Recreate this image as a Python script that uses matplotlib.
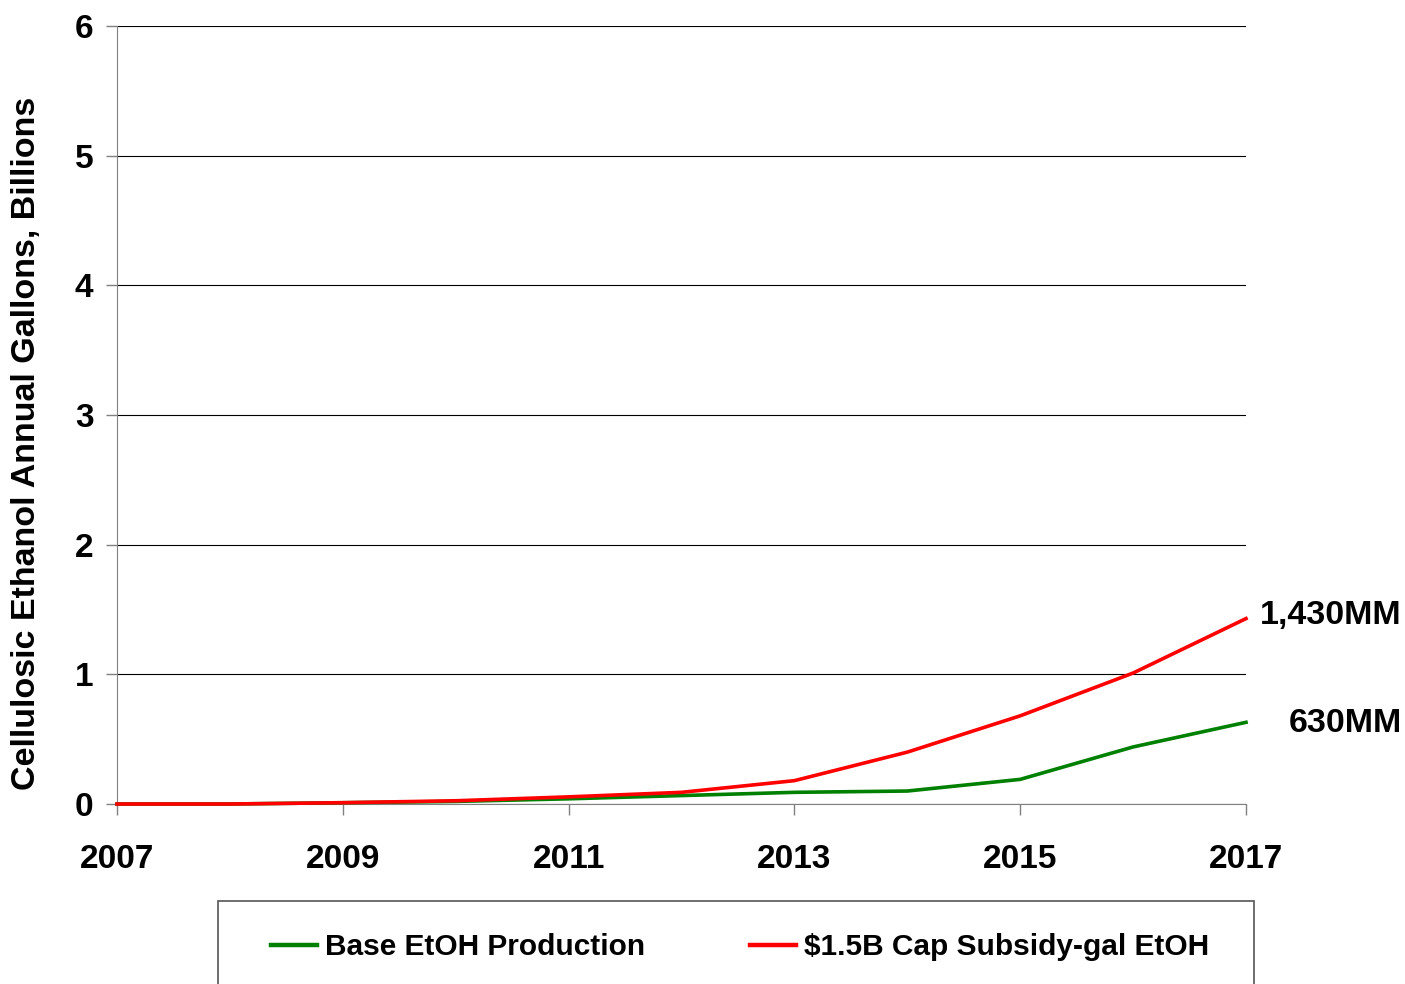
import matplotlib
matplotlib.use('Agg')
import matplotlib.pyplot as plt
from matplotlib.patches import Rectangle

# ---- data (billions of gallons) ----
years = [2007, 2008, 2009, 2010, 2011, 2012, 2013, 2014, 2015, 2016, 2017]
base = [0.0, 0.0, 0.01, 0.02, 0.04, 0.065, 0.09, 0.10, 0.19, 0.44, 0.63]
subsidy = [0.0, 0.0, 0.01, 0.025, 0.055, 0.09, 0.18, 0.40, 0.68, 1.01, 1.43]
end_labels = ['630MM', '1,430MM']
x_ticks = [2007, 2009, 2011, 2013, 2015, 2017]
y_ticks = [0, 1, 2, 3, 4, 5, 6]

plt.rcParams['font.family'] = ['Liberation Sans', 'DejaVu Sans']
plt.rcParams['font.weight'] = 'bold'

W, H = 1405, 984
fig = plt.figure(figsize=(W / 100, H / 100), dpi=100, facecolor='white')
ax = fig.add_axes([117 / W, 1 - 804 / H, (1246 - 117) / W, (804 - 26) / H])

ax.plot(years, base, color='#008000', lw=2.6, label='Base EtOH Production', clip_on=False, zorder=3)
ax.plot(years, subsidy, color='#FF0000', lw=2.6, label='$1.5B Cap Subsidy-gal EtOH', clip_on=False, zorder=4)

ax.set_xlim(2007, 2017)
ax.set_ylim(0, 6)
ax.set_xticks(x_ticks)
ax.set_yticks(y_ticks)
ax.grid(axis='y', color='black', lw=0.8)
ax.set_axisbelow(True)
for s in ['top', 'right']:
    ax.spines[s].set_visible(False)
ax.spines['left'].set_color('#808080')
ax.spines['bottom'].set_color('#808080')
ax.tick_params(axis='both', labelsize=24, length=8, color='#808080', width=1)
ax.tick_params(axis='x', pad=20.5)
ax.tick_params(axis='y', pad=9)
for t in ax.get_xticklabels() + ax.get_yticklabels():
    t.set_fontweight('bold')

fig.text(27 / W, 1 - 443 / H, 'Cellulosic Ethanol Annual Gallons, Billions',
         rotation=90, ha='center', va='center', fontsize=24.5, fontweight='bold')

# end-of-line labels
ax.annotate(end_labels[1], xy=(years[-1], subsidy[-1]), xytext=(112, 2),
            textcoords='offset points', ha='right', va='center',
            fontsize=24.5, fontweight='bold', annotation_clip=False)
ax.annotate(end_labels[0], xy=(years[-1], base[-1]), xytext=(112, -0.5),
            textcoords='offset points', ha='right', va='center',
            fontsize=24.5, fontweight='bold', annotation_clip=False)

# legend box, cut off by the bottom edge
fig.patches.append(Rectangle((218 / W, -0.05), (1254 - 218) / W, 0.05 + (984 - 901) / H,
                             transform=fig.transFigure, fill=False,
                             edgecolor='#555555', lw=1.2))
leg = fig.legend(loc='center', bbox_to_anchor=(740 / W, 1 - 947 / H), ncol=2,
                 frameon=False, fontsize=21.5, handlelength=1.55, handletextpad=0.27,
                 columnspacing=3.5)
for t in leg.get_texts():
    t.set_fontweight('bold')
for ln in leg.get_lines():
    ln.set_linewidth(3.2)

fig.savefig('out.png', dpi=100)
